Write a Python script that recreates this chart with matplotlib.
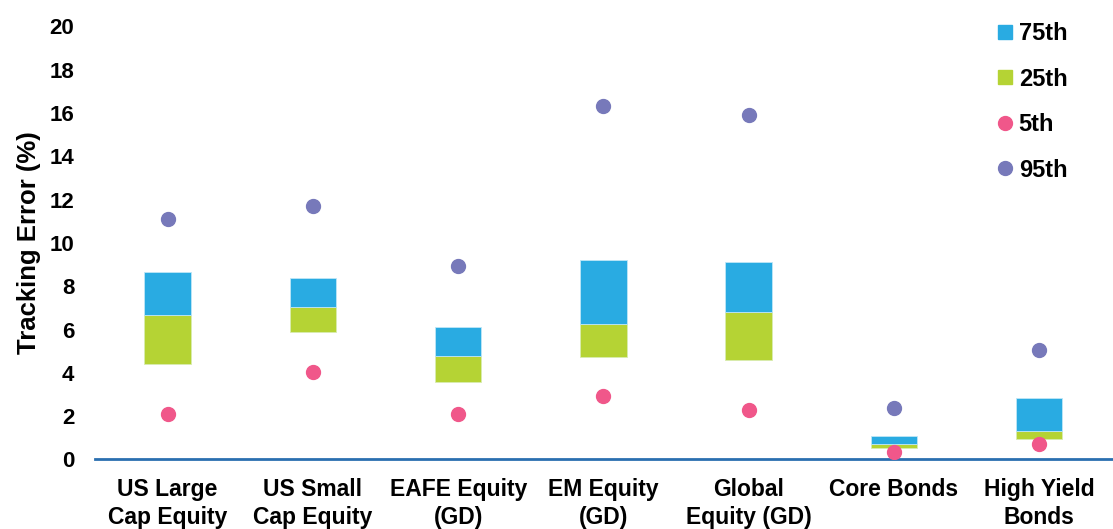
import numpy as np
import matplotlib.pyplot as plt
from matplotlib.lines import Line2D

plt.rcParams['font.family'] = ['Liberation Sans', 'DejaVu Sans']
plt.rcParams['font.weight'] = 'bold'

# tracking error percentiles (%) by asset class
categories = ["US Large\nCap Equity", "US Small\nCap Equity", "EAFE Equity\n(GD)",
              "EM Equity\n(GD)", "Global\nEquity (GD)", "Core Bonds", "High Yield\nBonds"]
p5 = [2.12, 4.05, 2.09, 2.91, 2.30, 0.34, 0.73]
p25 = [4.42, 5.90, 3.58, 4.72, 4.58, 0.53, 0.93]
p50 = [6.67, 7.04, 4.78, 6.26, 6.81, 0.73, 1.31]
p75 = [8.66, 8.38, 6.12, 9.22, 9.14, 1.07, 2.82]
p95 = [11.09, 11.71, 8.94, 16.34, 15.92, 2.40, 5.05]

blue = '#29abe2'
green = '#b5d334'
pink = '#f0578a'
purple = '#7779ba'

fig = plt.figure(figsize=(11.13, 5.29), dpi=100)
ax = fig.add_axes([0.0854, 0.1314, 0.9136, 0.8186])

x = np.arange(len(categories))
lo = np.array(p25)
mid = np.array(p50)
hi = np.array(p75)
w = 0.32
ax.bar(x, mid - lo, bottom=lo, width=w, color=green, edgecolor='#d8ecb0', linewidth=0.6, zorder=2)
ax.bar(x, hi - mid, bottom=mid, width=w, color=blue, edgecolor='#bfe6f6', linewidth=0.6, zorder=2)
ax.scatter(x, p5, s=100, color=pink, zorder=3)
ax.scatter(x, p95, s=100, color=purple, zorder=3)

ax.set_xlim(-0.5, len(categories) - 0.5)
ax.set_ylim(0, 20)
ax.set_yticks(range(0, 21, 2))
ax.set_xticks(x)
ax.set_xticklabels(categories, fontsize=16.5, fontweight='bold', linespacing=1.3)
ax.tick_params(axis='x', length=0, pad=13)
ax.tick_params(axis='y', length=0, pad=15, labelsize=16)
for lab in ax.get_yticklabels():
    lab.set_fontweight('bold')
ax.set_ylabel('Tracking Error (%)', fontsize=18.5, fontweight='bold', labelpad=6)

for side in ['top', 'right', 'left']:
    ax.spines[side].set_visible(False)
ax.spines['bottom'].set_color('#2a6fb0')
ax.spines['bottom'].set_linewidth(2)

handles = [
    Line2D([], [], marker='s', linestyle='none', color=blue, markersize=9.5),
    Line2D([], [], marker='s', linestyle='none', color=green, markersize=9.5),
    Line2D([], [], marker='o', linestyle='none', color=pink, markersize=10),
    Line2D([], [], marker='o', linestyle='none', color=purple, markersize=10),
]
leg = fig.legend(handles, ['75th', '25th', '5th', '95th'], loc='upper left',
                 bbox_to_anchor=(0.876, 0.998), frameon=False, fontsize=17,
                 labelspacing=0.95, handlelength=0.7, handletextpad=0.25)
for t in leg.get_texts():
    t.set_fontweight('bold')

fig.savefig('out.png', dpi=100)
